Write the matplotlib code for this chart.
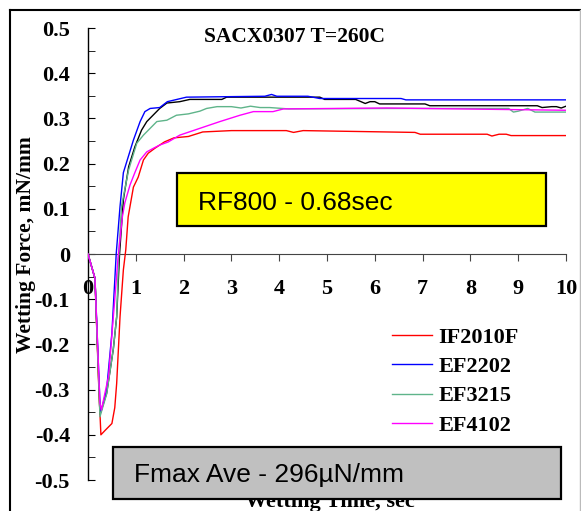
import numpy as np
import matplotlib
matplotlib.use("Agg")
import matplotlib.pyplot as plt
from matplotlib.patches import Rectangle
from matplotlib.lines import Line2D


# wetting balance curves, time [sec] vs force [mN/mm]
t_if2010f = [0, 0.146, 0.22, 0.27, 0.36, 0.50, 0.56, 0.60, 0.67, 0.74, 0.79, 0.84, 0.95, 1.05,
             1.16, 1.26, 1.4, 1.6, 1.8, 2.1, 2.4, 3.0, 4.15, 4.3, 4.5, 6.84, 6.95, 8.35, 8.45,
             8.6, 8.75, 8.85, 10]
f_if2010f = [0, -0.054, -0.28, -0.40, -0.39, -0.375, -0.34, -0.286, -0.139, -0.035, 0.009, 0.082,
             0.148, 0.17, 0.208, 0.223, 0.234, 0.248, 0.257, 0.26, 0.27, 0.273, 0.273, 0.269,
             0.273, 0.269, 0.265, 0.265, 0.261, 0.265, 0.265, 0.262, 0.262]

t_ef2202 = [0, 0.146, 0.25, 0.27, 0.39, 0.50, 0.59, 0.67, 0.74, 0.95, 1.09, 1.19, 1.30, 1.5,
            1.66, 2.06, 3.7, 3.84, 3.95, 4.6, 4.85, 6.55, 6.65, 10]
f_ef2202 = [0, -0.054, -0.33, -0.35, -0.30, -0.175, 0.0, 0.105, 0.18, 0.252, 0.293, 0.315,
            0.322, 0.324, 0.337, 0.347, 0.349, 0.353, 0.349, 0.349, 0.344, 0.344, 0.341, 0.341]

t_ef3215 = [0, 0.146, 0.25, 0.39, 0.53, 0.60, 0.64, 0.70, 0.85, 1.02, 1.16, 1.3, 1.44, 1.65,
            1.85, 2.1, 2.34, 2.48, 2.7, 3.0, 3.2, 3.4, 3.6, 3.8, 4.2, 6.25, 8.8, 8.9, 9.0, 9.2,
            9.35, 10]
f_ef3215 = [0, -0.054, -0.36, -0.31, -0.21, -0.139, -0.01, 0.105, 0.186, 0.245, 0.263, 0.278,
            0.293, 0.296, 0.307, 0.31, 0.316, 0.322, 0.326, 0.326, 0.323, 0.327, 0.324, 0.324,
            0.321, 0.322, 0.322, 0.314, 0.316, 0.322, 0.314, 0.314]

t_ef4102 = [0, 0.146, 0.25, 0.28, 0.43, 0.56, 0.63, 0.72, 0.77, 0.88, 0.98, 1.09, 1.23, 1.37,
            1.5, 1.68, 1.92, 2.34, 2.76, 3.18, 3.46, 3.87, 4.09, 6.25, 10]
f_ef4102 = [0, -0.054, -0.33, -0.345, -0.27, -0.10, -0.006, 0.083, 0.113, 0.153, 0.18, 0.208,
            0.226, 0.234, 0.241, 0.248, 0.263, 0.278, 0.293, 0.307, 0.315, 0.315, 0.321, 0.323,
            0.318]

# fifth (black) curve, not in the legend
t_black = [0, 0.146, 0.25, 0.39, 0.53, 0.60, 0.66, 0.74, 0.85, 0.98, 1.12, 1.23, 1.5, 1.65,
           1.92, 2.13, 2.8, 2.9, 4.85, 4.95, 5.6, 5.8, 5.9, 6.0, 6.1, 7.05, 7.15, 9.4, 9.5,
           9.7, 9.8, 9.9, 10]
f_black = [0, -0.054, -0.355, -0.308, -0.21, -0.139, 0.0, 0.12, 0.193, 0.237, 0.274, 0.293,
           0.322, 0.334, 0.337, 0.342, 0.342, 0.347, 0.347, 0.342, 0.342, 0.333, 0.337, 0.337,
           0.332, 0.332, 0.328, 0.328, 0.324, 0.326, 0.326, 0.323, 0.327]

series = [
    ("IF2010F", t_if2010f, f_if2010f, "#ff0000"),
    ("EF2202", t_ef2202, f_ef2202, "#0000ff"),
    ("EF3215", t_ef3215, f_ef3215, "#5fb48a"),
    ("EF4102", t_ef4102, f_ef4102, "#ff00ff"),
]

x_ticks = [0, 1, 2, 3, 4, 5, 6, 7, 8, 9, 10]
y_ticks = [-0.5, -0.4, -0.3, -0.2, -0.1, 0, 0.1, 0.2, 0.3, 0.4, 0.5]
y_ticklabels = ["-0.5", "-0.4", "-0.3", "-0.2", "-0.1", "0", "0.1", "0.2", "0.3", "0.4", "0.5"]

title = "SACX0307 T=260C"
note_top = "RF800 - 0.68sec"
note_bottom = "Fmax Ave - 296\u00b5N/mm"

W, H = 581, 511
SERIF = "Liberation Serif"
SANS = "Liberation Sans"


def fx(px):
    return px / W


def fy(py):
    return 1 - py / H


fig = plt.figure(figsize=(W / 100, H / 100), dpi=100)
ax = fig.add_axes([fx(88), fy(480), (566 - 88) / W, (480 - 28) / H])

ax.plot(t_black, f_black, color="black", lw=1.0, zorder=2)
for name, t, f, c in series:
    ax.plot(t, f, color=c, lw=1.0, label=name, zorder=3)

ax.set_xlim(0, 10)
ax.set_ylim(-0.5, 0.5)
ax.set_xticks(x_ticks)
ax.set_yticks(y_ticks)
ax.set_yticks(np.arange(-0.45, 0.5, 0.1), minor=True)
ax.set_yticklabels(y_ticklabels)

for s in ["top", "right"]:
    ax.spines[s].set_visible(False)
ax.spines["bottom"].set_position(("data", 0))
ax.spines["bottom"].set_color("#444444")
ax.spines["left"].set_linewidth(1.0)

ax.tick_params(axis="y", which="both", direction="in", length=5, pad=13)
ax.tick_params(axis="x", direction="out", length=5, pad=13, color="#444444")
for lab in ax.get_xticklabels() + ax.get_yticklabels():
    lab.set_fontfamily(SERIF)
    lab.set_fontweight("bold")
    lab.set_fontsize(16)

leg = ax.legend(loc="upper left", bbox_to_anchor=(fx(392), fy(327)),
                bbox_transform=fig.transFigure, frameon=False, borderpad=0,
                borderaxespad=0, handlelength=1.8, handletextpad=0.3, labelspacing=0.4,
                prop={"family": SERIF, "weight": "bold", "size": 16})

fig.text(fx(294), fy(37.5), title, ha="center", va="center",
         family=SERIF, weight="bold", fontsize=15.5)
fig.text(fx(26), fy(245), "Wetting Force, mN/mm", rotation=90, ha="center", va="center",
         family=SERIF, weight="bold", fontsize=15.5)
fig.text(fx(330), fy(507), "Wetting Time, sec", ha="center", va="baseline",
         family=SERIF, weight="bold", fontsize=16, zorder=3)

# annotation boxes
fig.add_artist(Rectangle((fx(177), fy(226)), (546 - 177) / W, (226 - 173) / H,
                         transform=fig.transFigure, facecolor="#ffff00",
                         edgecolor="black", lw=1.6, zorder=5))
fig.text(fx(198), fy(210), note_top, ha="left", va="baseline",
         family=SANS, fontsize=19, zorder=6)

fig.add_artist(Rectangle((fx(113), fy(499)), (561 - 113) / W, (499 - 447) / H,
                         transform=fig.transFigure, facecolor="#c0c0c0",
                         edgecolor="black", lw=1.6, zorder=5))
fig.text(fx(134), fy(482), note_bottom, ha="left", va="baseline",
         family=SANS, fontsize=19, zorder=6)

# outer frame
fig.add_artist(Line2D([fx(10), fx(10)], [fy(10), fy(520)], transform=fig.transFigure,
                      color="black", lw=1.5))
fig.add_artist(Line2D([fx(10), fx(580)], [fy(10), fy(10)], transform=fig.transFigure,
                      color="black", lw=1.5))
fig.add_artist(Line2D([fx(580), fx(580)], [fy(10), fy(520)], transform=fig.transFigure,
                      color="#bbbbbb", lw=1.0))

fig.savefig("out.png", dpi=100)
